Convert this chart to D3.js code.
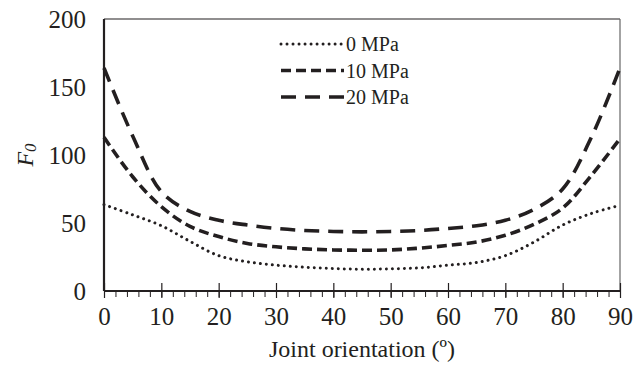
<!DOCTYPE html>
<html>
<head>
<meta charset="utf-8">
<script src="https://cdn.jsdelivr.net/npm/d3@7"></script>
<style>
  body { margin: 0; background: #fff; }
</style>
</head>
<body>
<div id="chart-area"></div>
<script>
// Data
var angles = [0, 5, 10, 15, 20, 25, 30, 35, 40, 45, 50, 55, 60, 65, 70, 75, 80, 85, 90];
var f0_0MPa  = [63.5, 56, 48, 36.5, 26, 21.5, 19, 17.5, 16.5, 16, 16.3, 17, 19, 21, 26, 36, 48.5, 57, 63];
var f0_10MPa = [113, 84, 62, 47.5, 40, 35, 32.5, 31, 30.2, 30, 30.2, 31.5, 33.5, 36, 41, 49, 61, 85, 112];
var f0_20MPa = [164, 114, 73, 58.5, 52, 48.5, 46, 44.5, 43.8, 43.5, 43.8, 44.5, 46, 48, 52, 60, 75, 113, 164];
var seriesNames = ["0 MPa", "10 MPa", "20 MPa"];
var xTicks = [0, 10, 20, 30, 40, 50, 60, 70, 80, 90];
var yTicks = [0, 50, 100, 150, 200];

var width = 644, height = 371;
var margin = {top: 19, right: 24, bottom: 80, left: 104};
var w = width - margin.left - margin.right;
var h = height - margin.top - margin.bottom;
var ink = "#231f20";
var serif = "Liberation Serif";

var svg = d3.select("#chart-area").append("svg").attr("width", width).attr("height", height)
  .style("font-family", serif);
var g = svg.append("g").attr("transform", "translate(" + margin.left + "," + margin.top + ")");

// Scales
var x = d3.scaleLinear().domain([0, 90]).range([0, w]);
var y = d3.scaleLinear().domain([0, 200]).range([h, 0]);

// frame (top + right)
g.append("line").attr("x1", 0).attr("x2", w).attr("y1", 0).attr("y2", 0).attr("stroke", ink).attr("stroke-width", 1.2);
g.append("line").attr("x1", w).attr("x2", w).attr("y1", 0).attr("y2", h).attr("stroke", "#666").attr("stroke-width", 1.2);

// minor x ticks
var xAxisMinor = d3.axisBottom(x).tickValues(d3.range(0, 91, 2)).tickSize(6).tickFormat("");
g.append("g").attr("transform", "translate(0," + h + ")").call(xAxisMinor)
  .call(s => s.select(".domain").remove())
  .selectAll("line").attr("stroke", ink).attr("stroke-width", 1);

// major x ticks (crossing the axis)
var xAxis = d3.axisBottom(x).tickValues(xTicks).tickSize(7).tickPadding(9);
var xg = g.append("g").attr("transform", "translate(0," + h + ")").call(xAxis)
  .attr("font-family", serif);
xg.select(".domain").attr("stroke", ink).attr("stroke-width", 2).attr("d", "M0,0H" + w);
xg.selectAll(".tick line").attr("stroke", ink).attr("stroke-width", 1.2).attr("y1", -8);
xg.selectAll("text").style("font-family", serif).style("font-size", "25px").attr("fill", ink);

// y axis
var yAxis = d3.axisLeft(y).tickValues(yTicks).tickSize(0).tickPadding(18);
var yg = g.append("g").call(yAxis).attr("font-family", serif);
yg.select(".domain").attr("stroke", ink).attr("stroke-width", 2.2).attr("d", "M0,0V" + h);
yg.selectAll("text").style("font-family", serif).style("font-size", "25px").attr("fill", ink);

// Labels
g.append("text").attr("x", w / 2).attr("y", h + 66).attr("text-anchor", "middle")
  .style("font-family", serif).style("font-size", "24px").attr("fill", ink).text("Joint orientation (º)");

var yLabel = svg.append("text").attr("transform", "translate(33,155) rotate(-90)")
  .attr("text-anchor", "middle").style("font-family", serif).style("font-size", "24px")
  .style("font-style", "italic").attr("fill", ink);
yLabel.append("tspan").text("F");
yLabel.append("tspan").style("font-size", "17px").attr("dy", 3).text("0");

// Lines
var styles = [
  {data: f0_0MPa, dash: "0.01,6", cap: "round", sw: 3},
  {data: f0_10MPa, dash: "10,5", cap: "butt", sw: 3.6},
  {data: f0_20MPa, dash: "15,9", cap: "butt", sw: 3.6}
];

var line = d3.line()
  .x((d, i) => x(angles[i]))
  .y(d => y(d))
  .curve(d3.curveCatmullRom.alpha(0.5));

styles.forEach(s => {
  g.append("path").datum(s.data).attr("d", line).attr("fill", "none")
    .attr("stroke", ink).attr("stroke-width", s.sw)
    .attr("stroke-dasharray", s.dash).attr("stroke-linecap", s.cap);
});

// Legend
var legend = svg.append("g").attr("transform", "translate(281,44)");
seriesNames.forEach((name, i) => {
  var row = legend.append("g").attr("transform", "translate(0," + (i * 26.5) + ")");
  row.append("line").attr("x1", 0).attr("x2", 63).attr("y1", 0).attr("y2", 0)
    .attr("stroke", ink).attr("stroke-width", styles[i].sw)
    .attr("stroke-dasharray", styles[i].dash).attr("stroke-linecap", styles[i].cap);
  row.append("text").attr("x", 65).attr("y", 7).style("font-family", serif)
    .style("font-size", "20px").attr("fill", ink).text(name);
});
</script>
</body>
</html>
